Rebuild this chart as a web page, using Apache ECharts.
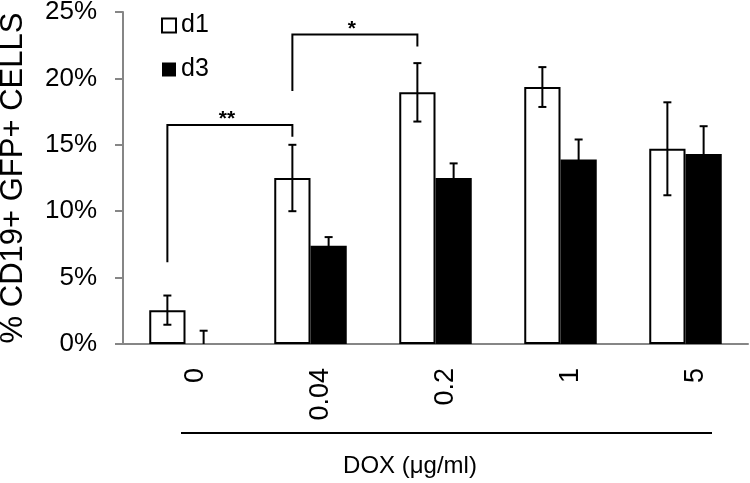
<!DOCTYPE html>
<html>
<head>
<meta charset="utf-8">
<style>
  html, body { margin: 0; padding: 0; background: #fff; }
  #chart { width: 750px; height: 483px; }
</style>
<script src="https://cdn.jsdelivr.net/npm/echarts@6/dist/echarts.min.js"></script>
</head>
<body>
<div id="chart"></div>
<script>
const categories = ["0", "0.04", "0.2", "1", "5"];
const d1Values = [2.55, 12.5, 18.95, 19.35, 14.7];
const d1Errors = [1.1, 2.5, 2.2, 1.5, 3.5];
const d3Values = [0, 7.4, 12.5, 13.9, 14.3];
const d3Errors = [1.0, 0.65, 1.1, 1.5, 2.1];
// [from category, to category, left leg bottom, bracket top, right leg bottom, label]
const brackets = [
  [0, 1, 6.15, 16.5, 15.6, "**"],
  [1, 2, 19.05, 23.3, 22.4, "*"]
];

const FONT = "Liberation Sans, Arial, sans-serif";
const GAP = 0.42;

const el = document.getElementById("chart");
const chart = echarts.init(el);

function barOffset(api, idx) {
  const band = api.size([1, 0])[0];
  const barW = band * (1 - GAP) / 2;
  return (idx === 0 ? -1 : 1) * barW / 2;
}

const errorData = [];
d1Values.forEach((v, i) => errorData.push([i, v, d1Errors[i], 0]));
d3Values.forEach((v, i) => errorData.push([i, v, d3Errors[i], 1]));

function renderError(params, api) {
  const i = api.value(0), v = api.value(1), e = api.value(2), s = api.value(3);
  const dx = barOffset(api, s);
  const lo = Math.max(0, v - e);
  const top = api.coord([i, v + e]);
  const bot = api.coord([i, lo]);
  const x = top[0] + dx;
  const style = { stroke: "#000", lineWidth: 2 };
  const children = [
    { type: "line", shape: { x1: x, y1: top[1], x2: x, y2: bot[1] }, style },
    { type: "line", shape: { x1: x - 4, y1: top[1], x2: x + 4, y2: top[1] }, style }
  ];
  if (v - e > 0) {
    children.push({ type: "line", shape: { x1: x - 4, y1: bot[1], x2: x + 4, y2: bot[1] }, style });
  }
  return { type: "group", children };
}

function renderBracket(params, api) {
  const b = brackets[params.dataIndex];
  const dx = barOffset(api, 0);
  const pl = api.coord([b[0], b[2]]);
  const pt = api.coord([b[0], b[3]]);
  const pr = api.coord([b[1], b[4]]);
  const xl = pl[0] + dx, xr = pr[0] + dx;
  return {
    type: "group",
    children: [
      {
        type: "polyline",
        shape: { points: [[xl, pl[1]], [xl, pt[1]], [xr, pt[1]], [xr, pr[1]]] },
        style: { stroke: "#000", lineWidth: 2, fill: null }
      },
      {
        type: "text",
        x: (xl + xr) / 2 - 3, y: pt[1] + 5,
        style: { text: b[5], fill: "#000", font: "bold 21px " + FONT, align: "center", verticalAlign: "bottom" }
      }
    ]
  };
}

chart.setOption({
  animation: false,
  grid: { left: 123, right: 2, top: 12, bottom: 139, outerBoundsMode: "none" },
  legend: {
    orient: "vertical",
    left: 156, top: 8,
    itemWidth: 14, itemHeight: 14, itemGap: 19,
    icon: "rect",
    data: ["d1", "d3"],
    textStyle: { fontFamily: FONT, fontSize: 25, color: "#000" }
  },
  xAxis: {
    type: "category",
    data: categories,
    axisLine: { lineStyle: { color: "#868686", width: 2 } },
    axisTick: { show: false },
    axisLabel: {
      rotate: 90, margin: 24, fontFamily: FONT, fontSize: 27, color: "#000",
      verticalAlign: "top", lineHeight: 20
    }
  },
  yAxis: {
    type: "value",
    min: 0, max: 25, interval: 5,
    name: "% CD19+ GFP+ CELLS",
    nameLocation: "middle",
    nameGap: 94,
    nameTextStyle: { fontFamily: FONT, fontSize: 31, color: "#000" },
    axisLine: { show: true, lineStyle: { color: "#868686", width: 2 } },
    axisTick: { show: true, length: 8, lineStyle: { color: "#868686", width: 2 } },
    splitLine: { show: false },
    axisLabel: {
      formatter: "{value}%", margin: 26, fontFamily: FONT, fontSize: 26, color: "#000",
      padding: [4, 0, 0, 0]
    }
  },
  series: [
    {
      name: "d1", type: "bar", data: d1Values,
      barGap: "0%", barCategoryGap: GAP * 100 + "%",
      itemStyle: { color: "#fff", borderColor: "#000", borderWidth: 2 }
    },
    {
      name: "d3", type: "bar", data: d3Values,
      itemStyle: { color: "#000", borderWidth: 0 }
    },
    {
      type: "custom", renderItem: renderError, data: errorData, z: 5,
      encode: { x: 0, y: 1 }, silent: true
    },
    {
      type: "custom", renderItem: renderBracket, data: brackets.map(b => [b[0], b[3]]), z: 5,
      encode: { x: 0, y: 1 }, silent: true
    }
  ],
  graphic: [
    { type: "line", shape: { x1: 181, y1: 433, x2: 712, y2: 433 }, style: { stroke: "#000", lineWidth: 2 } },
    {
      type: "text", x: 410, y: 466,
      style: { text: "DOX (\u03bcg/ml)", font: "24px " + FONT, fill: "#000", align: "center", verticalAlign: "middle" }
    }
  ]
});
</script>
</body>
</html>
